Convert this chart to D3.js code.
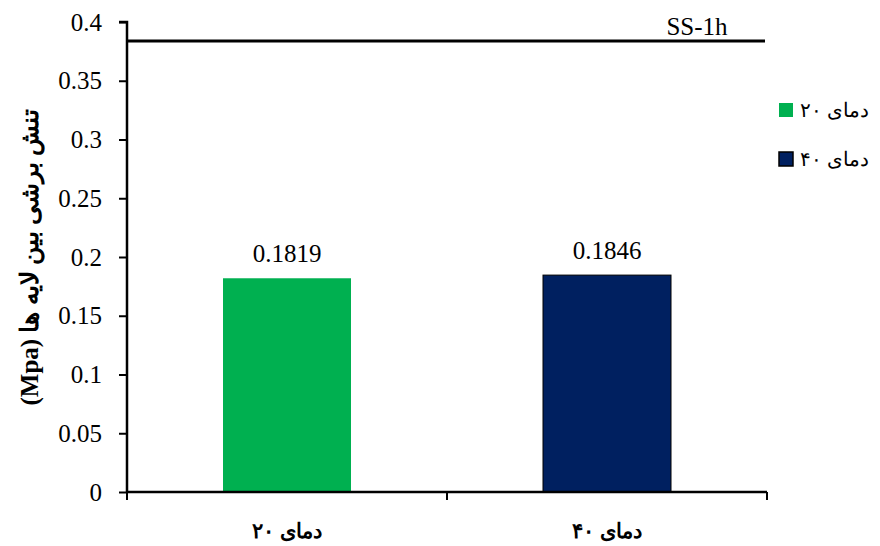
<!DOCTYPE html>
<html lang="fa">
<head>
  <meta charset="utf-8">
  <script src="https://d3js.org/d3.v7.min.js"></script>
  <style>
    body { margin: 0; background: #fff; }
    text { font-family: "Liberation Serif", "DejaVu Serif", serif; }
  </style>
</head>
<body>
  <svg width="880" height="546"></svg>
  <script>
    const categories = ["دمای ۲۰", "دمای ۴۰"];
    const values = [0.1819, 0.1846];
    const labels = ["0.1819", "0.1846"];
    const colors = ["#00b050", "#002060"];
    const yTicks = [0, 0.05, 0.1, 0.15, 0.2, 0.25, 0.3, 0.35, 0.4];
    const refValue = 0.3838;
    const refLabel = "SS-1h";
    const yTitle = "تنش برشی بین لایه ها (Mpa)";

    const svg = d3.select("svg");
    const plotL = 127, plotR = 767, plotT = 22, plotB = 492;

    const x = d3.scaleBand().domain(categories).range([plotL, plotR]).paddingInner(0.6).paddingOuter(0.3);
    const xb = d3.scaleBand().domain(categories).range([plotL, plotR]);
    const y = d3.scaleLinear().domain([0, 0.4]).range([plotB, plotT]);

    // bars
    svg.selectAll("rect.bar")
      .data(values)
      .enter()
      .append("rect")
      .attr("class", "bar")
      .attr("x", (d, i) => x(categories[i]))
      .attr("width", x.bandwidth())
      .attr("y", d => y(d))
      .attr("height", d => plotB - y(d))
      .attr("fill", (d, i) => colors[i])
      .attr("stroke", (d, i) => i === 1 ? "#000" : "none")
      .attr("stroke-width", 1);

    // value labels
    svg.selectAll("text.val")
      .data(values)
      .enter()
      .append("text")
      .attr("class", "val")
      .attr("x", (d, i) => x(categories[i]) + x.bandwidth() / 2)
      .attr("y", d => y(d) - 16)
      .attr("text-anchor", "middle")
      .attr("font-size", 25)
      .text((d, i) => labels[i]);

    // reference line
    svg.append("line")
      .attr("x1", plotL).attr("x2", plotR - 2)
      .attr("y1", y(refValue)).attr("y2", y(refValue))
      .attr("stroke", "#000").attr("stroke-width", 3);
    svg.append("text")
      .attr("x", 697).attr("y", y(refValue) - 6)
      .attr("text-anchor", "middle")
      .attr("font-size", 25)
      .text(refLabel);

    // y axis
    const yAxis = svg.append("g")
      .attr("transform", `translate(${plotL},0)`)
      .call(d3.axisLeft(y).tickValues(yTicks).tickSize(8).tickPadding(17).tickFormat(d3.format("")));
    yAxis.select(".domain").attr("stroke-width", 2.5).attr("d", `M-8,${plotT}H0V${plotB}`);
    yAxis.selectAll(".tick line").attr("stroke-width", 2);
    yAxis.selectAll("text").attr("font-size", 25).attr("font-family", "Liberation Serif").attr("fill", "#000");

    // x axis
    const xAxis = svg.append("g")
      .attr("transform", `translate(0,${plotB})`)
      .call(d3.axisBottom(xb).tickSize(0).tickFormat(""));
    xAxis.select(".domain").attr("stroke-width", 2.5).attr("d", `M${plotL},0H${plotR}`);
    xAxis.selectAll(".tick").remove();
    const xTickPos = [plotL, xb(categories[1]), plotR];
    xAxis.selectAll("line.xt")
      .data(xTickPos)
      .enter()
      .append("line")
      .attr("x1", d => d).attr("x2", d => d)
      .attr("y1", 0).attr("y2", 8)
      .attr("stroke", "#000").attr("stroke-width", 2);

    svg.selectAll("text.cat")
      .data(categories)
      .enter()
      .append("text")
      .attr("class", "cat")
      .attr("x", d => xb(d) + xb.bandwidth() / 2)
      .attr("y", 538)
      .attr("text-anchor", "middle")
      .attr("font-size", 21)
      .attr("font-weight", "bold")
      .attr("font-family", "DejaVu Sans")
      .attr("direction", "rtl")
      .text(d => d);

    // y title
    svg.append("text")
      .attr("transform", `translate(38,${(plotT + plotB) / 2}) rotate(-90)`)
      .attr("text-anchor", "middle")
      .attr("font-size", 25)
      .attr("font-weight", "bold")
      .attr("font-family", "DejaVu Sans")
      .attr("direction", "rtl")
      .text(yTitle);

    // legend
    const legend = svg.selectAll("g.leg")
      .data(categories)
      .enter()
      .append("g")
      .attr("class", "leg")
      .attr("transform", (d, i) => `translate(779,${103 + i * 49})`);
    legend.append("rect")
      .attr("width", 14).attr("height", 14)
      .attr("fill", (d, i) => colors[i])
      .attr("stroke", (d, i) => i === 1 ? "#000" : "none")
      .attr("stroke-width", 1.5);
    legend.append("text")
      .attr("x", 21).attr("y", 14)
      .attr("font-size", 20)
      .attr("font-family", "DejaVu Sans")
      .attr("text-anchor", "start")
      .attr("direction", "ltr")
      .attr("unicode-bidi", "plaintext")
      .text(d => d);
  </script>
</body>
</html>
